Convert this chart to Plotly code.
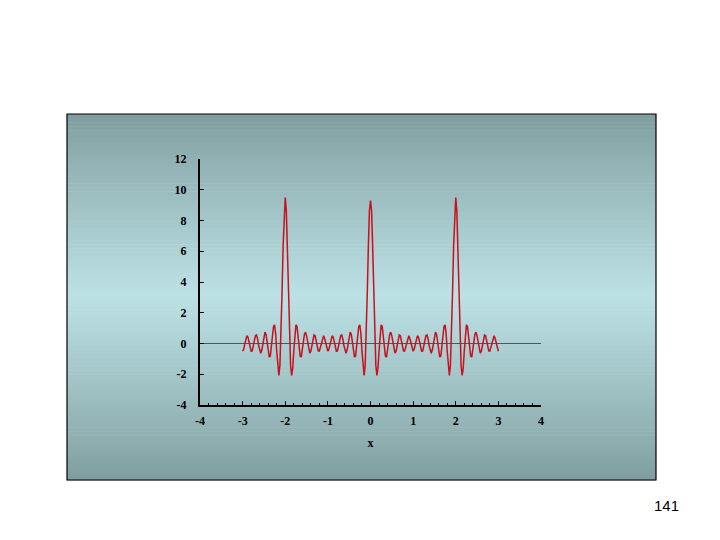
import numpy as np
import plotly.graph_objects as go

# sample grid (x from -3 to 3, step 0.025)
x_values = np.round(np.linspace(-3, 3, 241), 3)

# values
y_values = [
    -0.50, -0.37, -0.04, 0.31, 0.50, 0.42, 0.12, -0.25, -0.50, -0.48,
    -0.21, 0.19, 0.50, 0.55, 0.31, -0.12, -0.50, -0.63, -0.43, 0.03,
    0.50, 0.74, 0.59, 0.10, -0.50, -0.88, -0.82, -0.28, 0.50, 1.12,
    1.21, 0.61, -0.50, -1.61, -2.08, -1.42, 0.50, 3.34, 6.35, 8.65,
    9.50,
    8.65, 6.35, 3.34, 0.50, -1.42, -2.08, -1.61, -0.50, 0.61, 1.21,
    1.12, 0.50, -0.28, -0.82, -0.88, -0.50, 0.10, 0.59, 0.74, 0.50,
    0.03, -0.43, -0.63, -0.50, -0.12, 0.31, 0.55, 0.50, 0.19, -0.21,
    -0.48, -0.50, -0.25, 0.12, 0.42, 0.50, 0.31, -0.04, -0.37, -0.50,
    -0.37, -0.04, 0.31, 0.50, 0.42, 0.12, -0.25, -0.50, -0.48, -0.21,
    0.19, 0.50, 0.55, 0.31, -0.12, -0.50, -0.63, -0.43, 0.03, 0.50,
    0.74, 0.59, 0.10, -0.50, -0.88, -0.82, -0.28, 0.50, 1.12, 1.21,
    0.61, -0.50, -1.61, -2.08, -1.42, 0.50, 3.34, 6.35, 8.65, 9.30,
    8.65, 6.35, 3.34, 0.50, -1.42, -2.08, -1.61, -0.50, 0.61, 1.21,
    1.12, 0.50, -0.28, -0.82, -0.88, -0.50, 0.10, 0.59, 0.74, 0.50,
    0.03, -0.43, -0.63, -0.50, -0.12, 0.31, 0.55, 0.50, 0.19, -0.21,
    -0.48, -0.50, -0.25, 0.12, 0.42, 0.50, 0.31, -0.04, -0.37, -0.50,
    -0.37, -0.04, 0.31, 0.50, 0.42, 0.12, -0.25, -0.50, -0.48, -0.21,
    0.19, 0.50, 0.55, 0.31, -0.12, -0.50, -0.63, -0.43, 0.03, 0.50,
    0.74, 0.59, 0.10, -0.50, -0.88, -0.82, -0.28, 0.50, 1.12, 1.21,
    0.61, -0.50, -1.61, -2.08, -1.42, 0.50, 3.34, 6.35, 8.65, 9.50,
    8.65, 6.35, 3.34, 0.50, -1.42, -2.08, -1.61, -0.50, 0.61, 1.21,
    1.12, 0.50, -0.28, -0.82, -0.88, -0.50, 0.10, 0.59, 0.74, 0.50,
    0.03, -0.43, -0.63, -0.50, -0.12, 0.31, 0.55, 0.50, 0.19, -0.21,
    -0.48, -0.50, -0.25, 0.12, 0.42, 0.50, 0.31, -0.04, -0.37, -0.50,
]

x_ticks = [-4, -3, -2, -1, 0, 1, 2, 3, 4]
y_ticks = [-4, -2, 0, 2, 4, 6, 8, 10, 12]
x_title = "x"
page_number = "141"

# the page body adds an offset of about 8px; compensate
OX, OY = 7, 8
W, H = 720, 540
L, R, T, B = 199 - OX, 540 - OX, 159 - OY, 405 - OY  # plot area (figure px)


def px2paper_x(px):
    return (px - OX - L) / (R - L)


def px2paper_y(py):
    return (B - (py - OY)) / (B - T)


fig = go.Figure()
fig.add_trace(go.Scatter(
    x=x_values, y=y_values, mode="lines",
    line=dict(color="#c8101e", width=1.5),
    showlegend=False, hoverinfo="skip",
))

# gradient background box (target-page pixels)
box_l, box_r, box_t, box_b = 66, 655, 114, 480
dark = np.array([127, 157, 158])
light = np.array([188, 225, 229])
mid = 295
shapes = []
n = 90
edges = np.linspace(box_t, box_b, n + 1)
for i in range(n):
    y0p, y1p = edges[i], edges[i + 1]
    yc = 0.5 * (y0p + y1p)
    if yc <= mid:
        f = (yc - box_t) / (mid - box_t)
    else:
        f = (box_b - yc) / (box_b - mid)
    f = f ** 0.9
    c = dark + (light - dark) * f
    shapes.append(dict(
        type="rect", xref="paper", yref="paper", layer="below",
        x0=px2paper_x(box_l), x1=px2paper_x(box_r),
        y0=px2paper_y(y1p + 0.6), y1=px2paper_y(y0p),
        line=dict(width=0),
        fillcolor="rgb(%d,%d,%d)" % tuple(c.round().astype(int)),
    ))
shapes.append(dict(
    type="rect", xref="paper", yref="paper", layer="below",
    x0=px2paper_x(box_l), x1=px2paper_x(box_r),
    y0=px2paper_y(box_b), y1=px2paper_y(box_t),
    line=dict(color="black", width=1.2), fillcolor="rgba(0,0,0,0)",
))

tickfont = dict(family="Liberation Serif", size=12, color="black")

fig.update_layout(
    width=W, height=H,
    margin=dict(l=L, r=W - R, t=T, b=H - B, pad=0),
    paper_bgcolor="white",
    plot_bgcolor="rgba(0,0,0,0)",
    shapes=shapes,
    showlegend=False,
    xaxis=dict(
        range=[-4, 4], tickvals=x_ticks,
        ticktext=["<b>%d</b>" % v for v in x_ticks],
        tickfont=tickfont, ticks="inside", ticklen=4, tickwidth=1,
        tickcolor="black", ticklabelstandoff=4,
        minor=dict(dtick=0.2, ticks="inside", ticklen=2, tickcolor="black"),
        showline=True, linecolor="black", linewidth=2,
        showgrid=False, zeroline=False,
        title=dict(text="<b>%s</b>" % x_title, font=tickfont, standoff=11),
    ),
    yaxis=dict(
        range=[-4, 12], tickvals=y_ticks,
        ticktext=["<b>%d</b>" % v for v in y_ticks],
        tickfont=tickfont, ticks="inside", ticklen=4, tickwidth=1,
        tickcolor="black", ticklabelstandoff=9,
        showline=True, linecolor="black", linewidth=2,
        showgrid=False,
        zeroline=True, zerolinecolor="#4a5a5a", zerolinewidth=1,
    ),
    annotations=[dict(
        text=page_number, xref="paper", yref="paper",
        x=px2paper_x(665), y=px2paper_y(505),
        xanchor="center", yanchor="middle",
        showarrow=False, font=dict(family="Liberation Sans", size=15, color="black"),
    )],
)

fig.write_html("out.html")
